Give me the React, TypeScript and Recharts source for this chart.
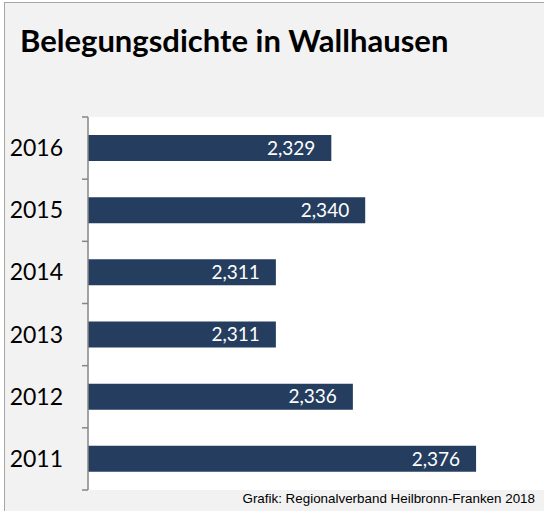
import React from "react";
import { BarChart, Bar, XAxis, YAxis, CartesianGrid, LabelList } from "recharts";

const years = ["2016", "2015", "2014", "2013", "2012", "2011"];
const values = [2.329, 2.34, 2.311, 2.311, 2.336, 2.376];
const xDomain: [number, number] = [2.25, 2.4];
const title = "Belegungsdichte in Wallhausen";
const source = "Grafik: Regionalverband Heilbronn-Franken 2018";

const data = years.map((y, i) => ({ year: y, value: values[i] }));

const BAR = "#253e5f";
const AXIS = "#868686";

const fmt = (v: any) => Number(v).toFixed(3).replace(".", ",");

const YTick = (props: any) => {
  const { x, y, payload, index, visibleTicksCount } = props;
  const half = payload && payload.offset ? payload.offset : 31;
  const last = index === (visibleTicksCount ?? years.length) - 1;
  return (
    <g>
      <line x1={x - 6} x2={x} y1={y - half} y2={y - half} stroke={AXIS} strokeWidth={1.5} />
      {last && <line x1={x - 6} x2={x} y1={y + half} y2={y + half} stroke={AXIS} strokeWidth={1.5} />}
      <text x={x - 25} y={y} dy={8} textAnchor="end" fontFamily="Lato" fontSize={23} fill="#000">
        {payload.value}
      </text>
    </g>
  );
};

export default function App() {
  return (
    <div style={{ position: "absolute", left: 0, top: 0, width: 544, height: 511, overflow: "hidden", background: "#fff" }}>
      <div
        style={{
          position: "absolute",
          left: 4,
          top: 2,
          width: 700,
          height: 700,
          background: "#f2f2f2",
          borderLeft: "1.5px solid #a6a6a6",
          borderTop: "1.5px solid #a6a6a6",
        }}
      />
      <div
        style={{
          position: "absolute",
          left: 20,
          top: 22,
          fontFamily: "Lato",
          fontWeight: 700,
          fontSize: 31,
          color: "#000",
          whiteSpace: "nowrap",
          lineHeight: "36px",
        }}
      >
        {title}
      </div>
      <div style={{ position: "absolute", left: 0, top: 0 }}>
        <BarChart
          width={550}
          height={511}
          data={data}
          layout="vertical"
          margin={{ top: 117, right: 0, bottom: 21, left: 0 }}
        >
          <CartesianGrid fill="#ffffff" horizontal={false} vertical={false} stroke="none" />
          <XAxis type="number" domain={xDomain} hide allowDataOverflow />
          <YAxis
            type="category"
            dataKey="year"
            width={88}
            tickLine={false}
            tickSize={0}
            tickMargin={0}
            axisLine={{ stroke: AXIS, strokeWidth: 1.5 }}
            tick={<YTick />}
            interval={0}
          />
          <Bar dataKey="value" fill={BAR} barSize={26} isAnimationActive={false}>
            <LabelList
              dataKey="value"
              position="insideRight"
              offset={16}
              formatter={fmt}
              fill="#ffffff"
              fontFamily="Lato"
              fontSize={19}
            />
          </Bar>
        </BarChart>
      </div>
      <div
        style={{
          position: "absolute",
          right: 9,
          top: 492,
          fontFamily: "Liberation Sans",
          fontSize: 13.4,
          color: "#000",
          whiteSpace: "nowrap",
          lineHeight: "14px",
        }}
      >
        {source}
      </div>
    </div>
  );
}
